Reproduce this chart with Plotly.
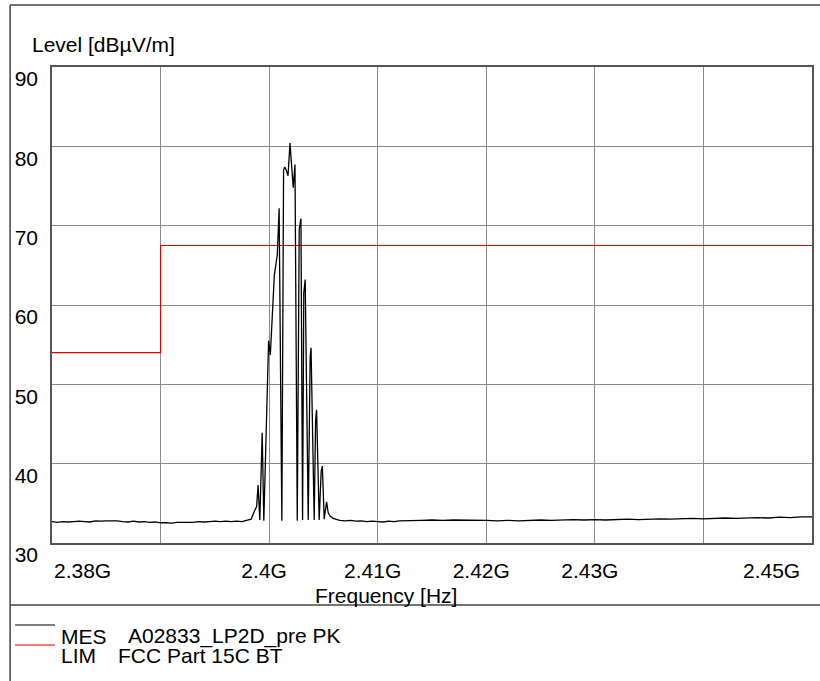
import plotly.graph_objects as go

# ---- data ----
mes_freq_mhz = [
    2380.0, 2380.5, 2381.0, 2381.5, 2382.0, 2382.5, 2383.0, 2383.5, 2384.0, 2384.5,
    2385.0, 2385.5, 2386.0, 2386.5, 2387.0, 2387.5, 2388.0, 2388.5, 2389.0, 2389.5,
    2390.0, 2390.5, 2391.0, 2391.5, 2392.0, 2392.5, 2393.0, 2393.5, 2394.0, 2394.5,
    2395.0, 2395.5, 2396.0, 2396.5, 2397.0, 2397.5, 2397.9,
    2398.34, 2398.64, 2398.85, 2398.98, 2399.14, 2399.36, 2399.51, 2399.65, 2399.95,
    2400.11, 2400.29, 2400.48, 2400.75, 2400.92, 2401.17, 2401.33, 2401.44, 2401.58,
    2401.74, 2401.92, 2402.10, 2402.22, 2402.38, 2402.59, 2402.77, 2402.93, 2403.08,
    2403.19, 2403.32, 2403.60, 2403.78, 2403.86, 2404.15, 2404.28, 2404.37, 2404.61,
    2404.79, 2404.90, 2405.07, 2405.29, 2405.44, 2405.62, 2405.90, 2406.26,
    2406.5, 2407.0, 2407.5, 2408.0, 2408.5, 2409.0, 2409.5, 2410.0, 2410.5, 2411.0,
    2411.5, 2412.0, 2413.0, 2414.0, 2415.0, 2416.0, 2417.0, 2418.0, 2419.0, 2420.0,
    2421.0, 2422.0, 2423.0, 2424.0, 2425.0, 2426.0, 2427.0, 2428.0, 2429.0, 2430.0,
    2431.0, 2432.0, 2433.0, 2434.0, 2435.0, 2436.0, 2437.0, 2438.0, 2439.0, 2440.0,
    2441.0, 2442.0, 2443.0, 2444.0, 2445.0, 2446.0, 2447.0, 2448.0, 2449.0, 2450.0,
]
mes_level = [
    32.7, 32.6, 32.7, 32.65, 32.7, 32.75, 32.7, 32.65, 32.8, 32.75,
    32.8, 32.8, 32.8, 32.7, 32.65, 32.75, 32.65, 32.7, 32.6, 32.65,
    32.55, 32.55, 32.5, 32.6, 32.6, 32.65, 32.6, 32.7, 32.65, 32.7,
    32.75, 32.7, 32.75, 32.7, 32.75, 32.7, 32.8,
    33.0, 34.0, 34.6, 37.3, 32.9, 43.9, 32.8, 40.0, 55.5,
    53.7, 58.5, 63.8, 66.3, 72.2, 32.8, 77.0, 77.4, 77.0,
    76.3, 80.4, 77.0, 74.8, 77.7, 32.8, 69.5, 70.9, 32.9,
    61.5, 63.2, 32.9, 53.5, 54.6, 32.9, 45.5, 46.8, 32.9,
    39.0, 39.7, 33.0, 35.2, 33.8, 33.4, 33.1, 32.9,
    32.85, 32.8, 32.85, 32.75, 32.8, 32.7, 32.75, 32.7, 32.65, 32.75,
    32.7, 32.8, 32.8, 32.85, 32.9, 32.85, 32.9, 32.9, 32.85, 32.85,
    32.8, 32.85, 32.8, 32.85, 32.9, 32.85, 32.9, 32.95, 32.9, 32.95,
    32.9, 32.95, 33.0, 32.95, 33.0, 33.05, 33.0, 33.05, 33.1, 33.05,
    33.1, 33.15, 33.1, 33.15, 33.2, 33.15, 33.25, 33.2, 33.3, 33.3,
]
lim_freq_mhz = [2380.0, 2390.0, 2450.0]
lim_level = [54.0, 67.5, 67.5]

grid_freq_ghz = [2.39, 2.40, 2.41, 2.42, 2.43, 2.44]
grid_text = ["", "2.4G", "2.41G", "2.42G", "2.43G", ""]
edge_labels = [(2.38, "2.38G"), (2.45, "2.45G")]
y_ticks = [30, 40, 50, 60, 70, 80, 90]

mes_name = "MES"
mes_desc = "A02833_LP2D_pre PK"
lim_name = "LIM"
lim_desc = "FCC Part 15C BT"

FONT = "Liberation Sans, Arial, sans-serif"
FS = 21

mes_x = [f / 1000.0 for f in mes_freq_mhz]
lim_x = [f / 1000.0 for f in lim_freq_mhz]

fig = go.Figure()
fig.add_trace(go.Scatter(x=lim_x, y=lim_level, mode="lines", line=dict(color="#e00000", width=1.2, shape="hv"),
                         showlegend=False, hoverinfo="skip"))
fig.add_trace(go.Scatter(x=mes_x, y=mes_level, mode="lines", line=dict(color="black", width=1.3),
                         showlegend=False, hoverinfo="skip"))

W, H = 820, 681
L, R, T, B = 52, 814, 67, 543
pw, ph = R - L, B - T


def px(x):
    return (x - L) / pw


def py(y):
    return (B - y) / ph


shapes = [
    # outer frame
    dict(type="line", xref="paper", yref="paper", x0=px(10), x1=px(10), y0=py(5), y1=py(H + 5),
         line=dict(color="#444", width=1.5)),
    dict(type="line", xref="paper", yref="paper", x0=px(10), x1=px(W + 5), y0=py(5), y1=py(5),
         line=dict(color="#444", width=1.5)),
    dict(type="line", xref="paper", yref="paper", x0=px(10), x1=px(W + 5), y0=py(605), y1=py(605),
         line=dict(color="#444", width=1.5)),
    # legend sample lines
    dict(type="line", xref="paper", yref="paper", x0=px(15), x1=px(55), y0=py(625), y1=py(625),
         line=dict(color="black", width=1)),
    dict(type="line", xref="paper", yref="paper", x0=px(15), x1=px(55), y0=py(645), y1=py(645),
         line=dict(color="#e00000", width=1.2)),
]

annotations = [
    dict(text="Level [dBµV/m]", xref="paper", yref="paper", x=px(30), y=py(45), xanchor="left", yanchor="middle",
         showarrow=False, font=dict(family=FONT, size=FS, color="black")),
    dict(text="Frequency [Hz]", xref="paper", yref="paper", x=px(387), y=py(595), xanchor="center", yanchor="middle",
         showarrow=False, font=dict(family=FONT, size=FS, color="black")),
    dict(text=mes_name, xref="paper", yref="paper", x=px(59), y=py(636), xanchor="left", yanchor="middle",
         showarrow=False, font=dict(family=FONT, size=FS, color="black")),
    dict(text=mes_desc, xref="paper", yref="paper", x=px(126), y=py(636), xanchor="left", yanchor="middle",
         showarrow=False, font=dict(family=FONT, size=FS, color="black")),
    dict(text=lim_name, xref="paper", yref="paper", x=px(59), y=py(655), xanchor="left", yanchor="middle",
         showarrow=False, font=dict(family=FONT, size=FS, color="black")),
    dict(text=lim_desc, xref="paper", yref="paper", x=px(116), y=py(655), xanchor="left", yanchor="middle",
         showarrow=False, font=dict(family=FONT, size=FS, color="black")),
]
for xv, txt in edge_labels:
    first = xv == edge_labels[0][0]
    annotations.append(dict(text=txt, xref="x", yref="paper", x=xv, y=py(570),
                            xanchor="left" if first else "right",
                            xshift=0 if first else -10,
                            yanchor="middle", showarrow=False,
                            font=dict(family=FONT, size=FS, color="black")))

fig.update_layout(
    width=W, height=H, autosize=False,
    margin=dict(l=L, r=W - R, t=T, b=H - B, pad=0),
    paper_bgcolor="white", plot_bgcolor="white",
    font=dict(family=FONT, size=FS, color="black"),
    shapes=shapes, annotations=annotations, showlegend=False,
)
fig.update_xaxes(range=[2.38, 2.45], tickvals=grid_freq_ghz, ticktext=grid_text,
                 showgrid=True, gridcolor="#8a8a8a", gridwidth=1, zeroline=False,
                 showline=True, linecolor="#555", linewidth=1.5, mirror=True,
                 ticks="", ticklabelshift=-5, ticklabelstandoff=8,
                 tickfont=dict(family=FONT, size=FS, color="black"))
fig.update_yaxes(range=[30, 90], tickvals=y_ticks,
                 showgrid=True, gridcolor="#8a8a8a", gridwidth=1, zeroline=False,
                 showline=True, linecolor="#555", linewidth=1.5, mirror=True,
                 ticks="", ticklabelshift=12, ticklabelstandoff=8,
                 tickfont=dict(family=FONT, size=FS, color="black"))

fig.write_html("out.html", config={"displayModeBar": False},
               post_script="document.body.style.margin='0';")
